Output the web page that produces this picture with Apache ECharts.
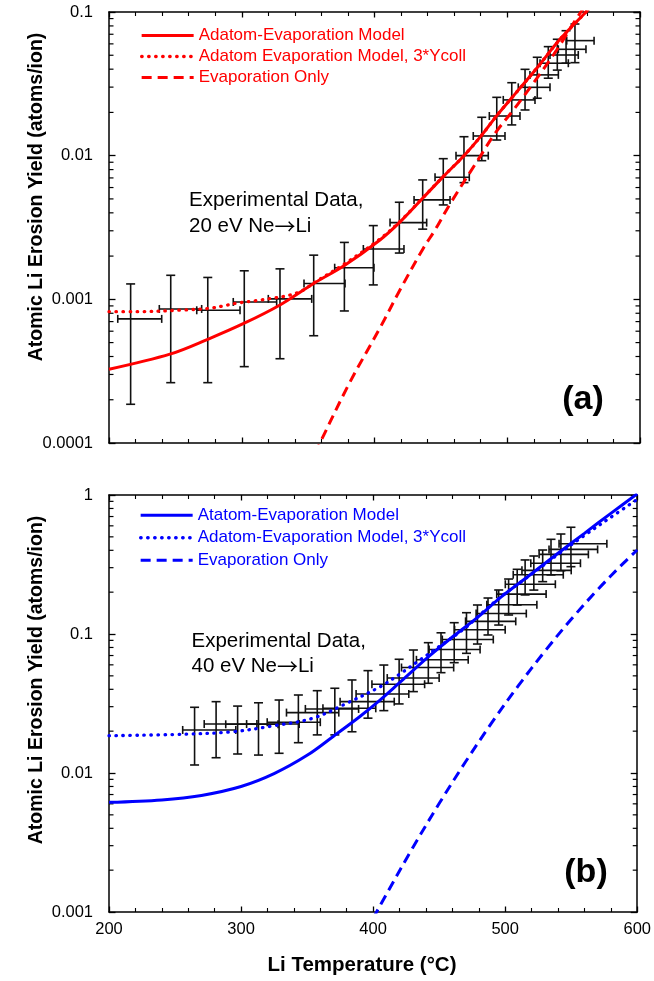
<!DOCTYPE html>
<html>
<head>
<meta charset="utf-8">
<title>Atomic Li Erosion Yield vs Li Temperature</title>
<script src="https://cdn.jsdelivr.net/npm/echarts@6/dist/echarts.min.js"></script>
<style>
  html, body { margin: 0; padding: 0; background: #ffffff; }
  #chart { width: 654px; height: 981px; }
</style>
</head>
<body>
<div id="chart"></div>
<script>
// ---------- Panel (a): 20 eV Ne -> Li ----------
const expTempA     = [216.3, 246.5, 274.4, 301.9, 328.8, 354.2, 377.3, 399.1, 418.7, 436.3, 451.8, 467.4, 480.8, 492.1, 503.4, 513.4, 522.6, 530.9, 537.7, 544.3, 551.0];
const expYieldA    = [7.31e-4, 8.57e-4, 8.39e-4, 9.59e-4, 1.007e-3, 1.29e-3, 1.66e-3, 2.24e-3, 3.42e-3, 4.92e-3, 7.08e-3, 0.0100, 0.01371, 0.01888, 0.02444, 0.0299, 0.0365, 0.0440, 0.0502, 0.0550, 0.0632];
const expYieldLowA = [1.86e-4, 2.63e-4, 2.63e-4, 3.40e-4, 3.86e-4, 5.58e-4, 8.3e-4, 1.26e-3, 2.10e-3, 3.08e-3, 4.54e-3, 6.49e-3, 9.23e-3, 0.01285, 0.01637, 0.0208, 0.0251, 0.0346, 0.0394, 0.0440, 0.0444];
const expYieldHighA= [1.28e-3, 1.47e-3, 1.42e-3, 1.58e-3, 1.63e-3, 2.03e-3, 2.49e-3, 3.26e-3, 4.74e-3, 6.78e-3, 9.53e-3, 0.01355, 0.0185, 0.02547, 0.0322, 0.0399, 0.0484, 0.0574, 0.0646, 0.0741, 0.0825];
const expTempLowA  = [206.6, 237.9, 266.1, 293.6, 320.0, 346.9, 370.0, 391.6, 411.7, 429.8, 445.6, 461.4, 474.4, 486.5, 497.0, 508.3, 517.1, 524.7, 532.2, 538.5, 544.8];
const expTempHighA = [239.7, 269.8, 298.7, 326.3, 352.7, 377.8, 399.6, 422.2, 439.3, 456.9, 471.4, 485.7, 498.3, 509.6, 520.9, 532.2, 538.5, 546.0, 553.5, 559.3, 565.4];

const modelTempA  = [200, 246.5, 274.4, 301.9, 328.8, 354.2, 377.3, 404.1, 418.7, 436.3, 451.8, 467.4, 480.8, 492.1, 504.1, 522.2, 539.7, 559.3, 566];
const modelYieldA = [3.26e-4, 4.17e-4, 5.27e-4, 6.82e-4, 9.14e-4, 1.29e-3, 1.72e-3, 2.59e-3, 3.42e-3, 5.06e-3, 7.15e-3, 0.0100, 0.0139, 0.0190, 0.0257, 0.0406, 0.0645, 0.100, 0.116];

const model3TempA  = [200, 218.3, 256, 276.1, 286.1, 296.2, 311.3, 323.8, 336.3, 346.4, 354.2, 377.3, 404.1, 418.7, 436.3, 451.8, 467.4, 480.8, 492.1, 504.1, 522.2, 539.7, 559.3, 566];
const model3YieldA = [8.2e-4, 8.2e-4, 8.43e-4, 8.67e-4, 9.0e-4, 9.4e-4, 9.8e-4, 1.02e-3, 1.07e-3, 1.16e-3, 1.30e-3, 1.76e-3, 2.63e-3, 3.45e-3, 5.08e-3, 7.17e-3, 0.0100, 0.0139, 0.0190, 0.0257, 0.0406, 0.0645, 0.100, 0.116];

const evapTempA  = [350, 358.9, 381, 404.1, 420, 436.8, 445.6, 456.9, 479.5, 490.8, 504.6, 519.6, 537.3, 554.8, 565];
const evapYieldA = [6.7e-5, 1.0e-4, 2.6e-4, 6.32e-4, 1.2e-3, 2.27e-3, 3.04e-3, 4.61e-3, 9.84e-3, 0.0143, 0.0208, 0.0319, 0.0545, 0.098, 0.13];

// ---------- Panel (b): 40 eV Ne -> Li ----------
const expTempB      = [264.8, 281.1, 297.4, 313.2, 328.8, 343.4, 357.7, 371.0, 384.0, 396.1, 408.1, 419.7, 430.5, 441.8, 451.4, 461.4, 470.7, 479.0, 487.0, 495.1, 502.6, 509.1, 515.1, 521.7, 528.4, 534.7, 542.2, 549.8];
const expYieldB     = [0.0204, 0.0225, 0.0224, 0.0225, 0.0232, 0.0272, 0.0289, 0.0292, 0.0326, 0.0370, 0.0435, 0.0482, 0.0574, 0.0652, 0.0773, 0.0913, 0.1072, 0.1233, 0.1403, 0.1625, 0.1936, 0.228, 0.267, 0.287, 0.323, 0.374, 0.406, 0.446];
const expYieldLowB  = [0.01142, 0.01288, 0.0137, 0.01346, 0.01386, 0.01652, 0.0188, 0.0188, 0.0198, 0.0248, 0.0281, 0.0314, 0.0385, 0.0442, 0.0527, 0.0622, 0.0726, 0.0847, 0.0984, 0.116, 0.137, 0.1617, 0.191, 0.207, 0.238, 0.266, 0.285, 0.305];
const expYieldHighB = [0.0297, 0.0326, 0.0303, 0.0320, 0.0335, 0.0364, 0.0391, 0.0407, 0.0467, 0.0545, 0.0598, 0.0658, 0.0767, 0.0866, 0.102, 0.1206, 0.1423, 0.1617, 0.1815, 0.2073, 0.2486, 0.292, 0.341, 0.364, 0.402, 0.480, 0.524, 0.586];
const expTempLowB   = [255.8, 272.1, 288.4, 304.2, 319.8, 334.4, 348.7, 362.0, 375.0, 387.1, 399.1, 410.7, 421.5, 432.8, 442.4, 452.4, 461.7, 470.0, 478.0, 486.1, 493.6, 500.1, 506.1, 512.7, 519.4, 525.7, 533.2, 540.8];
const expTempHighB  = [296, 312, 328, 344, 360, 374, 389, 402, 416, 427, 439, 450, 461, 472, 481, 491, 500, 508, 516, 524, 531, 538, 544, 550, 557, 563, 570, 577];

const modelTempB  = [200, 240, 270, 300, 325, 350, 370, 390, 405, 420, 442, 462, 480, 497, 517, 540, 560, 580, 600];
const modelYieldB = [6.15e-3, 6.4e-3, 6.9e-3, 8.0e-3, 9.9e-3, 0.0134, 0.0184, 0.0255, 0.0333, 0.0446, 0.0687, 0.0984, 0.134, 0.185, 0.258, 0.381, 0.53, 0.738, 1.02];

const model3TempB  = [200, 256, 293.6, 323.8, 353.9, 379, 405.4, 419.2, 436.8, 448.1, 469.5, 479.5, 497, 517.1, 539.7, 559.8, 579.9, 600];
const model3YieldB = [0.01855, 0.0190, 0.0198, 0.0218, 0.0247, 0.0314, 0.0418, 0.0507, 0.0664, 0.0789, 0.110, 0.134, 0.186, 0.257, 0.372, 0.51, 0.69, 0.93];

const evapTempB  = [400, 410, 430, 450, 470, 490, 510, 530, 550, 570, 590, 600];
const evapYieldB = [9.0e-4, 1.34e-3, 2.9e-3, 6.03e-3, 0.01204, 0.0231, 0.0425, 0.0751, 0.1276, 0.2083, 0.3265, 0.402];

// ---------- Tick labels ----------
const xTickLabels  = ['200', '300', '400', '500', '600'];
const yTickLabelsA = ['0.0001', '0.001', '0.01', '0.1'];
const yTickLabelsB = ['0.001', '0.01', '0.1', '1'];

// ---------- Helpers ----------
const FONT = '"Liberation Sans", Arial, Helvetica, sans-serif';
const RED = '#ff0000';
const BLUE = '#0000ff';
const INK = '#111111';

const pairs = (xs, ys) => xs.map((x, i) => [x, ys[i]]);
const errRows = (t, y, tl, th, yl, yh) => t.map((v, i) => [v, y[i], tl[i], th[i], yl[i], yh[i]]);

// minor log ticks (2..9 within each decade)
function logMinorTicks(e0, e1) {
  const out = [];
  for (let e = e0; e < e1; e++) {
    for (let m = 2; m <= 9; m++) out.push([400, m * Math.pow(10, e)]);
  }
  return out;
}

function renderErrorBar(params, api) {
  const t = api.value(0), y = api.value(1);
  const tl = api.value(2), th = api.value(3);
  const yl = api.value(4), yh = api.value(5);
  const pLo = api.coord([t, yl]);
  const pHi = api.coord([t, yh]);
  const pL = api.coord([tl, y]);
  const pR = api.coord([th, y]);
  const cw = 4.5, ch = 4;
  const style = { stroke: INK, lineWidth: 1.6, fill: null };
  const ln = (x1, y1, x2, y2) => ({ type: 'line', shape: { x1, y1, x2, y2 }, style });
  return {
    type: 'group',
    children: [
      ln(pLo[0], pLo[1], pHi[0], pHi[1]),
      ln(pLo[0] - cw, pLo[1], pLo[0] + cw, pLo[1]),
      ln(pHi[0] - cw, pHi[1], pHi[0] + cw, pHi[1]),
      ln(pL[0], pL[1], pR[0], pR[1]),
      ln(pL[0], pL[1] - ch, pL[0], pL[1] + ch),
      ln(pR[0], pR[1] - ch, pR[0], pR[1] + ch)
    ]
  };
}

function renderMinorTick(params, api) {
  const v = api.value(1);
  const l = api.coord([200, v]);
  const r = api.coord([600, v]);
  const style = { stroke: '#000', lineWidth: 1.2 };
  return {
    type: 'group',
    children: [
      { type: 'line', shape: { x1: l[0], y1: l[1], x2: l[0] + 4.5, y2: l[1] }, style },
      { type: 'line', shape: { x1: r[0] - 4.5, y1: r[1], x2: r[0], y2: r[1] }, style }
    ]
  };
}

function xAxisDef(grid, pos, labels) {
  return {
    type: 'value', gridIndex: grid, position: pos,
    min: 200, max: 600, interval: 100,
    axisLine: { show: true, onZero: false, lineStyle: { color: '#000', width: 1.5 } },
    axisTick: { show: true, inside: true, length: 5.5, lineStyle: { color: '#000', width: 1.3 } },
    minorTick: { show: true, splitNumber: 5, length: 4, lineStyle: { color: '#000', width: 1.1 } },
    splitLine: { show: false },
    axisLabel: labels ? {
      show: true, margin: 9, color: '#000', fontSize: 16.5, fontFamily: FONT,
      formatter: v => xTickLabels[Math.round((v - 200) / 100)]
    } : { show: false }
  };
}

function yAxisDef(grid, pos, min, max, labels) {
  const e0 = Math.round(Math.log10(min));
  return {
    type: 'log', logBase: 10, gridIndex: grid, position: pos,
    min: min, max: max,
    axisLine: { show: true, onZero: false, lineStyle: { color: '#000', width: 1.5 } },
    axisTick: { show: true, inside: true, length: 6.5, lineStyle: { color: '#000', width: 1.3 } },
    splitLine: { show: false },
    axisLabel: labels ? {
      show: true, margin: 16, color: '#000', fontSize: 16.5, fontFamily: FONT,
      formatter: v => labels[Math.round(Math.log10(v)) - e0]
    } : { show: false }
  };
}

function lineStyleFor(color, kind) {
  const ls = { color: color, width: 3 };
  if (kind === 'dotted') { ls.type = [0.5, 6.5]; ls.cap = 'round'; ls.width = 3.3; }
  if (kind === 'dashed') { ls.type = [10, 6]; }
  return ls;
}

function lineSeries(name, xi, yi, data, color, kind) {
  return {
    type: 'line', name: name, xAxisIndex: xi, yAxisIndex: yi,
    data: data, symbol: 'none', showSymbol: false, smooth: 0.35,
    clip: true, silent: true,
    lineStyle: lineStyleFor(color, kind), itemStyle: { color: color }, z: 3
  };
}

function legendItem(name, color, kind) {
  return { name: name, lineStyle: lineStyleFor(color, kind), itemStyle: { opacity: 0 } };
}

// two-line annotation; the arrow uses a font with a long, thin arrow glyph
function annotation(x, y, energy, lh) {
  return {
    type: 'text', x: x, y: y, silent: true,
    style: {
      text: 'Experimental Data,\n' + energy + ' eV Ne{arr|\u2192}Li',
      fill: '#000', fontSize: 20.5, fontFamily: FONT, lineHeight: lh,
      align: 'left', verticalAlign: 'top',
      rich: { arr: { fontFamily: '"Noto Sans CJK JP", "DejaVu Sans", sans-serif', fontSize: 21, fill: '#000', lineHeight: lh } }
    }
  };
}

const nameA1 = 'Adatom-Evaporation Model';
const nameA2 = 'Adatom Evaporation Model, 3*Ycoll';
const nameA3 = 'Evaporation Only';
const nameB1 = 'Atatom-Evaporation Model';
const nameB2 = 'Adatom-Evaporation Model, 3*Ycoll';
const nameB3 = 'Evaporation Only ';

const chart = echarts.init(document.getElementById('chart'), null, { renderer: 'canvas' });

const option = {
  animation: false,
  backgroundColor: '#ffffff',
  textStyle: { fontFamily: FONT },
  grid: [
    { left: 109, top: 12, width: 531, height: 431, containLabel: false },
    { left: 109, top: 495, width: 531, height: 417, containLabel: false }
  ],
  xAxis: [
    xAxisDef(0, 'bottom', false),
    xAxisDef(0, 'top', false),
    xAxisDef(1, 'bottom', true),
    xAxisDef(1, 'top', false)
  ],
  yAxis: [
    yAxisDef(0, 'left', 1e-4, 0.1, yTickLabelsA),
    yAxisDef(0, 'right', 1e-4, 0.1, null),
    yAxisDef(1, 'left', 1e-3, 1, yTickLabelsB),
    yAxisDef(1, 'right', 1e-3, 1, null)
  ],
  legend: [
    {
      left: 140, top: 25, orient: 'vertical', padding: 0,
      itemWidth: 52, itemHeight: 21, itemGap: 0, selectedMode: false,
      textStyle: { color: RED, fontSize: 17, fontFamily: FONT, lineHeight: 21 },
      data: [legendItem(nameA1, RED, 'solid'), legendItem(nameA2, RED, 'dotted'), legendItem(nameA3, RED, 'dashed')]
    },
    {
      left: 139, top: 504, orient: 'vertical', padding: 0,
      itemWidth: 52, itemHeight: 22.5, itemGap: 0, selectedMode: false,
      textStyle: { color: BLUE, fontSize: 17, fontFamily: FONT, lineHeight: 22.5 },
      data: [legendItem(nameB1, BLUE, 'solid'), legendItem(nameB2, BLUE, 'dotted'), legendItem(nameB3, BLUE, 'dashed')]
    }
  ],
  graphic: [
    annotation(189, 188, '20', 25.5),
    annotation(191.5, 628.5, '40', 25),
    {
      type: 'text', x: 583, y: 400, silent: true,
      style: { text: '(a)', fill: '#000', fontSize: 34, fontWeight: 'bold', fontFamily: FONT, align: 'center', verticalAlign: 'middle' }
    },
    {
      type: 'text', x: 586, y: 873, silent: true,
      style: { text: '(b)', fill: '#000', fontSize: 34, fontWeight: 'bold', fontFamily: FONT, align: 'center', verticalAlign: 'middle' }
    },
    {
      type: 'text', x: 362, y: 965, silent: true,
      style: { text: 'Li Temperature (\u00B0C)', fill: '#000', fontSize: 20.5, fontWeight: 'bold', fontFamily: FONT, align: 'center', verticalAlign: 'middle' }
    },
    {
      type: 'text', x: 37, y: 197, rotation: Math.PI / 2, silent: true,
      style: { text: 'Atomic Li Erosion Yield (atoms/ion)', fill: '#000', fontSize: 19.5, fontWeight: 'bold', fontFamily: FONT, align: 'center', verticalAlign: 'middle' }
    },
    {
      type: 'text', x: 37, y: 680, rotation: Math.PI / 2, silent: true,
      style: { text: 'Atomic Li Erosion Yield (atoms/ion)', fill: '#000', fontSize: 19.5, fontWeight: 'bold', fontFamily: FONT, align: 'center', verticalAlign: 'middle' }
    }
  ],
  series: [
    // minor ticks on the log axes
    {
      type: 'custom', xAxisIndex: 0, yAxisIndex: 0, silent: true, clip: false,
      renderItem: renderMinorTick, data: logMinorTicks(-4, -1), encode: { x: 0, y: 1 }, z: 1
    },
    {
      type: 'custom', xAxisIndex: 2, yAxisIndex: 2, silent: true, clip: false,
      renderItem: renderMinorTick, data: logMinorTicks(-3, 0), encode: { x: 0, y: 1 }, z: 1
    },
    // panel (a) model curves
    lineSeries(nameA1, 0, 0, pairs(modelTempA, modelYieldA), RED, 'solid'),
    lineSeries(nameA2, 0, 0, pairs(model3TempA, model3YieldA), RED, 'dotted'),
    lineSeries(nameA3, 0, 0, pairs(evapTempA, evapYieldA), RED, 'dashed'),
    // panel (a) experimental data
    {
      type: 'custom', name: 'Experimental Data, 20 eV', xAxisIndex: 0, yAxisIndex: 0, silent: true,
      renderItem: renderErrorBar,
      data: errRows(expTempA, expYieldA, expTempLowA, expTempHighA, expYieldLowA, expYieldHighA),
      encode: { x: [0, 2, 3], y: [1, 4, 5] }, z: 2
    },
    // panel (b) model curves
    lineSeries(nameB1, 2, 2, pairs(modelTempB, modelYieldB), BLUE, 'solid'),
    lineSeries(nameB2, 2, 2, pairs(model3TempB, model3YieldB), BLUE, 'dotted'),
    lineSeries(nameB3, 2, 2, pairs(evapTempB, evapYieldB), BLUE, 'dashed'),
    // panel (b) experimental data
    {
      type: 'custom', name: 'Experimental Data, 40 eV', xAxisIndex: 2, yAxisIndex: 2, silent: true,
      renderItem: renderErrorBar,
      data: errRows(expTempB, expYieldB, expTempLowB, expTempHighB, expYieldLowB, expYieldHighB),
      encode: { x: [0, 2, 3], y: [1, 4, 5] }, z: 2
    }
  ]
};

chart.setOption(option);
</script>
</body>
</html>
